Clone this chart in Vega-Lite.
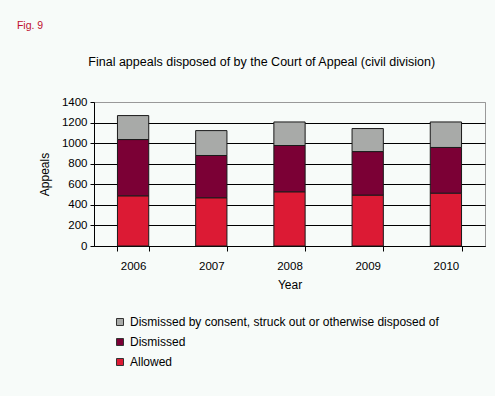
{
  "$schema": "https://vega.github.io/schema/vega-lite/v6.json",
  "background": "#f7fbf9",
  "padding": {"left": 16, "top": 20, "right": 20, "bottom": 30},
  "title": {"text": "Fig. 9", "anchor": "start", "frame": "bounds", "dx": -21, "color": "#c0102f", "fontSize": 10.5, "fontWeight": "normal", "font": "Liberation Sans", "offset": 24},
  "config": {
    "font": "Liberation Sans",
    "view": {"stroke": "#999999", "strokeWidth": 1},
    "axis": {"labelFont": "Liberation Sans", "titleFont": "Liberation Sans", "labelColor": "black", "titleColor": "black", "domainColor": "black", "tickColor": "black", "labelFontSize": 11.5, "titleFontSize": 12, "titleFontWeight": "normal"},
    "legend": {"labelFont": "Liberation Sans", "labelFontSize": 12, "labelColor": "black", "labelLimit": 0}
  },
  "data": {"values": [
    {"year": "2006", "outcome": "Allowed", "rank": 1, "appeals": 488},
    {"year": "2006", "outcome": "Dismissed", "rank": 2, "appeals": 547},
    {"year": "2006", "outcome": "Dismissed by consent, struck out or otherwise disposed of", "rank": 3, "appeals": 233},
    {"year": "2007", "outcome": "Allowed", "rank": 1, "appeals": 469},
    {"year": "2007", "outcome": "Dismissed", "rank": 2, "appeals": 411},
    {"year": "2007", "outcome": "Dismissed by consent, struck out or otherwise disposed of", "rank": 3, "appeals": 242},
    {"year": "2008", "outcome": "Allowed", "rank": 1, "appeals": 527},
    {"year": "2008", "outcome": "Dismissed", "rank": 2, "appeals": 450},
    {"year": "2008", "outcome": "Dismissed by consent, struck out or otherwise disposed of", "rank": 3, "appeals": 229},
    {"year": "2009", "outcome": "Allowed", "rank": 1, "appeals": 495},
    {"year": "2009", "outcome": "Dismissed", "rank": 2, "appeals": 423},
    {"year": "2009", "outcome": "Dismissed by consent, struck out or otherwise disposed of", "rank": 3, "appeals": 224},
    {"year": "2010", "outcome": "Allowed", "rank": 1, "appeals": 514},
    {"year": "2010", "outcome": "Dismissed", "rank": 2, "appeals": 444},
    {"year": "2010", "outcome": "Dismissed by consent, struck out or otherwise disposed of", "rank": 3, "appeals": 248}
  ]},
  "vconcat": [
    {
      "width": 391,
      "height": 144,
      "title": {"text": "Final appeals disposed of by the Court of Appeal (civil division)", "anchor": "middle", "frame": "bounds", "fontSize": 12.5, "fontWeight": "normal", "font": "Liberation Sans", "color": "black", "offset": 28},
      "mark": {"type": "bar", "stroke": "#1a1a1a", "strokeWidth": 1},
      "encoding": {
        "x": {"field": "year", "type": "ordinal", "title": "Year",
              "scale": {"paddingInner": 0.6, "paddingOuter": 0.3},
              "axis": {"labelAngle": 0, "tickBand": "extent", "tickSize": 5, "labelPadding": 9, "titlePadding": 8}},
        "y": {"field": "appeals", "type": "quantitative", "aggregate": "sum", "stack": "zero", "title": "Appeals",
              "scale": {"domain": [0, 1400], "nice": false},
              "axis": {"values": [0, 200, 400, 600, 800, 1000, 1200, 1400], "format": "d", "tickSize": 4, "labelPadding": 3, "titlePadding": 10,
                       "gridColor": {"condition": {"test": "datum.value == 1400", "value": "#999999"}, "value": "black"}, "gridOpacity": 1}},
        "color": {"field": "outcome", "type": "nominal",
                  "scale": {"domain": ["Dismissed by consent, struck out or otherwise disposed of", "Dismissed", "Allowed"], "range": ["#a8aaa8", "#7b0035", "#dc1a34"]},
                  "legend": {"title": null, "orient": "none", "legendX": 20, "legendY": 214, "symbolType": "square", "symbolSize": 49, "symbolStrokeColor": "#333333", "symbolStrokeWidth": 1, "rowPadding": 8, "labelOffset": 4}},
        "order": {"field": "rank", "type": "quantitative"}
      }
    }
  ]
}
